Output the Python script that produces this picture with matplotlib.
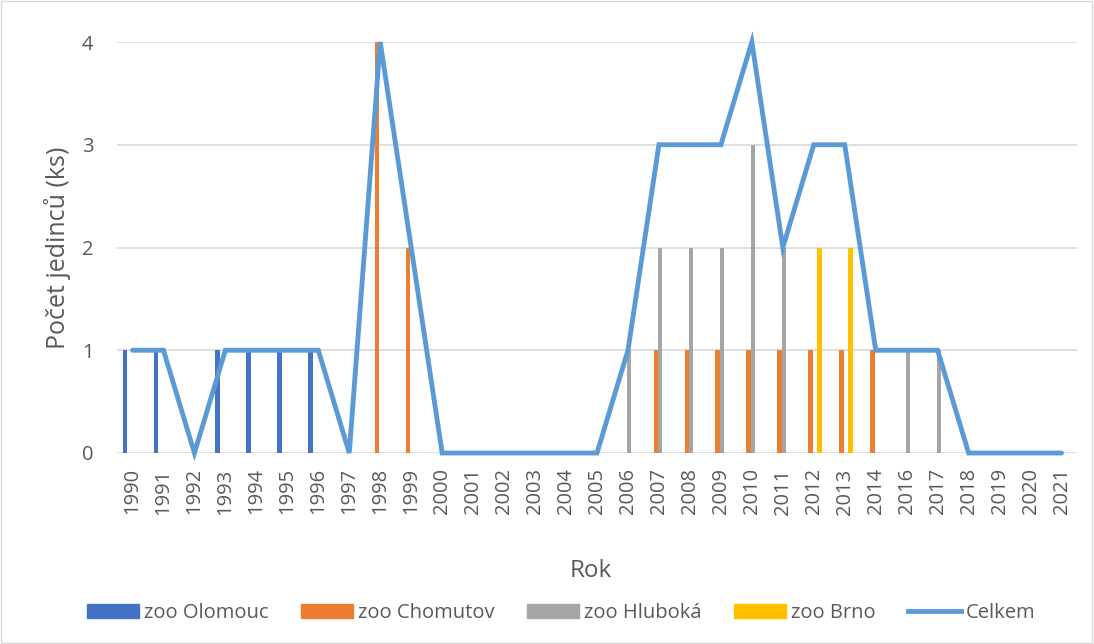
import matplotlib
matplotlib.use("Agg")
import matplotlib.pyplot as plt
import numpy as np
from matplotlib.patches import Rectangle, Patch
from matplotlib.lines import Line2D

plt.rcParams['font.family'] = ['Open Sans', 'DejaVu Sans']

years = ['1990', '1991', '1992', '1993', '1994', '1995', '1996', '1997', '1998', '1999',
         '2000', '2001', '2002', '2003', '2004', '2005', '2006', '2007', '2008', '2009',
         '2010', '2011', '2012', '2013', '2014', '2016', '2017', '2018', '2019', '2020', '2021']
olomouc = [1, 1, 0, 1, 1, 1, 1, 0, 0, 0, 0, 0, 0, 0, 0, 0, 0, 0, 0, 0, 0, 0, 0, 0, 0, 0, 0, 0, 0, 0, 0]
chomutov = [0, 0, 0, 0, 0, 0, 0, 0, 4, 2, 0, 0, 0, 0, 0, 0, 0, 1, 1, 1, 1, 1, 1, 1, 1, 0, 0, 0, 0, 0, 0]
hluboka = [0, 0, 0, 0, 0, 0, 0, 0, 0, 0, 0, 0, 0, 0, 0, 0, 1, 2, 2, 2, 3, 2, 0, 0, 0, 1, 1, 0, 0, 0, 0]
brno = [0, 0, 0, 0, 0, 0, 0, 0, 0, 0, 0, 0, 0, 0, 0, 0, 0, 0, 0, 0, 0, 0, 2, 2, 0, 0, 0, 0, 0, 0, 0]
celkem = [1, 1, 0, 1, 1, 1, 1, 0, 4, 2, 0, 0, 0, 0, 0, 0, 1, 3, 3, 3, 4, 2, 3, 3, 1, 1, 1, 0, 0, 0, 0]

series = [("zoo Olomouc", olomouc, "#4472c4"),
          ("zoo Chomutov", chomutov, "#ed7d31"),
          ("zoo Hluboká", hluboka, "#a5a5a5"),
          ("zoo Brno", brno, "#ffc000")]

fig = plt.figure(figsize=(10.94, 6.44), dpi=100)
fig.patches.append(Rectangle((0.001, 0.001), 0.997, 0.997, transform=fig.transFigure,
                             fill=False, edgecolor="#d9d9d9", linewidth=1))
ax = fig.add_axes([117/1094, 1-453/644, 960/1094, 411/644])

x = np.arange(len(years))
slot = 4.5/31
bw = 4.3/31
offsets = [-1.5, -0.5, 0.5, 1.5]
for (name, vals, col), off in zip(series, offsets):
    ax.bar(x + off*slot - 1/31, vals, width=bw, color=col, label=name, zorder=2)

ax.plot(x, celkem, color="#5b9bd5", linewidth=3.5, solid_joinstyle='miter',
        solid_capstyle='round', zorder=3, clip_on=False, label="Celkem")

ax.set_xlim(-0.5, len(years)-0.5)
ax.set_ylim(0, 4)
ax.set_yticks([0, 1, 2, 3, 4])
ax.set_xticks(x)
ax.set_xticklabels(years, rotation=90)
ax.yaxis.grid(True, color="#d9d9d9", linewidth=1.2, zorder=0)
ax.set_axisbelow(True)
for s in ax.spines.values():
    s.set_visible(False)
ax.tick_params(axis='both', length=0, colors="#595959", labelsize=14.5)
ax.tick_params(axis='y', pad=17)
ax.tick_params(axis='x', pad=11)

ax.set_xlabel("Rok", fontsize=17.5, color="#595959", labelpad=32)
ax.xaxis.label.set_x(0.494)
ax.set_ylabel("Počet jedinců (ks)", fontsize=18, color="#595959", labelpad=8)

handles = [Patch(color=c, label=n) for n, _, c in series]
handles.append(Line2D([], [], color="#5b9bd5", linewidth=3.5, label="Celkem"))
fig.legend(handles=handles, loc='center', bbox_to_anchor=(561/1094, 1-613/644), ncol=5,
           frameon=False, fontsize=14.5, labelcolor="#595959", handlelength=2.6,
           handleheight=0.65, handletextpad=0.25, columnspacing=1.6)

fig.savefig("out.png", dpi=100, facecolor="white")
